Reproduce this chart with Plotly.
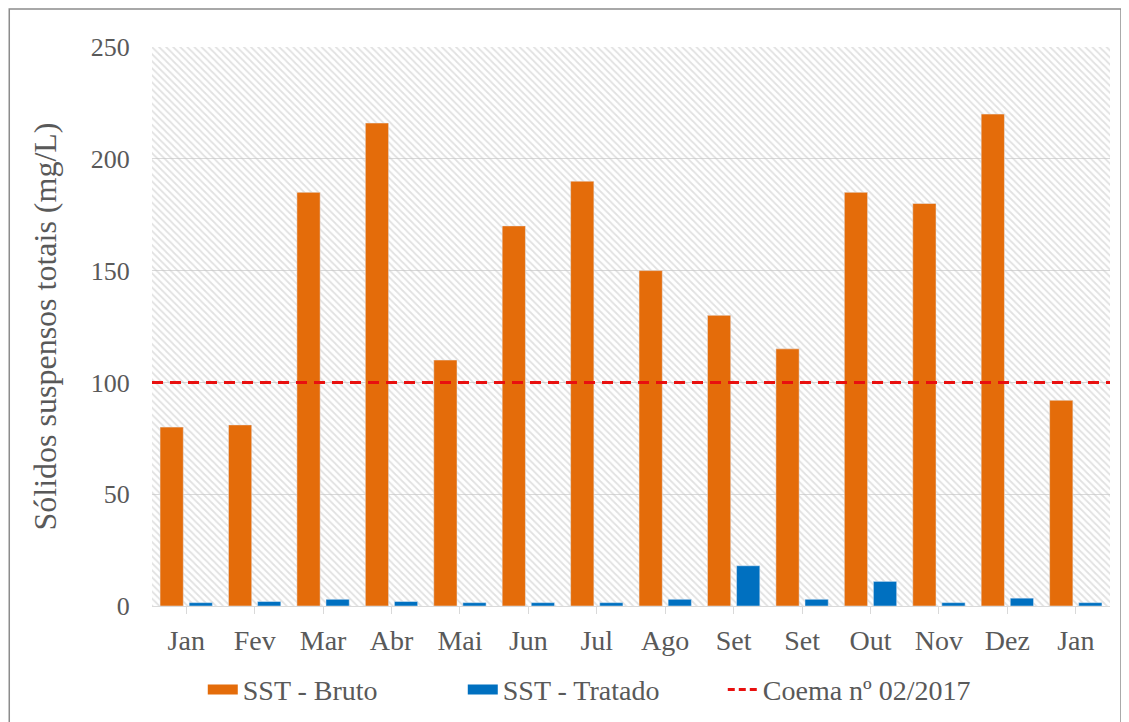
import plotly.graph_objects as go

categories = ["Jan", "Fev", "Mar", "Abr", "Mai", "Jun", "Jul", "Ago", "Set", "Set", "Out", "Nov", "Dez", "Jan"]
sst_bruto = [80, 81, 185, 216, 110, 170, 190, 150, 130, 115, 185, 180, 220, 92]
sst_tratado = [1.5, 2, 3, 2, 1.5, 1.5, 1.5, 3, 18, 3, 11, 1.5, 3.5, 1.5]
coema_limit = 100
y_ticks = [0, 50, 100, 150, 200, 250]

# unique positions for duplicated category names
xpos = list(range(len(categories)))

FONT = "Liberation Serif"
GRAY = "#595959"
ORANGE = "#E46C0A"
BLUE = "#0070C0"
RED = "#E8100F"

fig = go.Figure()

# hatched background on base numeric axis
fig.add_trace(go.Scatter(
    x=[0, 1, 1, 0, 0], y=[0, 0, 250, 250, 0], xaxis="x", yaxis="y",
    mode="lines", line=dict(width=0), fill="toself", fillcolor="rgba(0,0,0,0)",
    fillpattern=dict(shape="\\", fgcolor="#c4c4c4", bgcolor="rgba(255,255,255,0)", size=5, solidity=0.35),
    showlegend=False, hoverinfo="skip"))

fig.add_trace(go.Bar(x=xpos, y=sst_bruto, name="SST - Bruto", marker_color=ORANGE,
                     xaxis="x2", yaxis="y", showlegend=False, legendgroup="b"))
fig.add_trace(go.Bar(x=xpos, y=sst_tratado, name="SST - Tratado", marker_color=BLUE,
                     xaxis="x2", yaxis="y", showlegend=False, legendgroup="t"))
fig.add_trace(go.Scatter(x=[0, 1], y=[coema_limit, coema_limit], name="Coema nº 02/2017",
                         mode="lines", line=dict(color=RED, width=3, dash="11px,7px"),
                         xaxis="x3", yaxis="y", showlegend=False, legendgroup="c"))

# legend entries (wide swatches like the original)
fig.add_trace(go.Scatter(x=[None], y=[None], name="SST - Bruto", mode="lines",
                         line=dict(color=ORANGE, width=12), xaxis="x3", yaxis="y", legendgroup="b"))
fig.add_trace(go.Scatter(x=[None], y=[None], name="SST - Tratado", mode="lines",
                         line=dict(color=BLUE, width=12), xaxis="x3", yaxis="y", legendgroup="t"))
fig.add_trace(go.Scatter(x=[None], y=[None], name="Coema nº 02/2017", mode="lines",
                         line=dict(color=RED, width=3, dash="7px,4px"), xaxis="x3", yaxis="y",
                         legendgroup="c"))

fig.update_layout(
    width=1121, height=714,
    margin=dict(l=144, r=19, t=39, b=116, autoexpand=False),
    paper_bgcolor="white", plot_bgcolor="white",
    barmode="group", bargap=0.15, bargroupgap=0.2,
    font=dict(family=FONT, color=GRAY, size=24),
    xaxis=dict(range=[0, 1], visible=False, fixedrange=True),
    xaxis2=dict(overlaying="x", tickmode="array", tickvals=xpos, ticktext=categories,
                range=[-0.5, len(categories) - 0.5], showgrid=False, showline=True,
                linecolor="#d9d9d9", linewidth=1, ticks="outside", tickson="boundaries",
                ticklen=7, tickcolor="#d9d9d9", automargin=False, ticklabelstandoff=2,
                tickfont=dict(size=28, family=FONT, color=GRAY)),
    xaxis3=dict(overlaying="x", range=[0, 1], visible=False),
    yaxis=dict(range=[0, 250], tickvals=y_ticks, showgrid=True, gridcolor="#d9d9d9",
               gridwidth=1, zeroline=False, showline=False, ticks="outside", ticklen=16,
               tickcolor="rgba(0,0,0,0)", automargin=False,
               tickfont=dict(size=26, family=FONT, color=GRAY),
               title=dict(text="Sólidos suspensos totais (mg/L)", standoff=24,
                          font=dict(size=32, family=FONT, color=GRAY))),
    legend=dict(orientation="h", x=0.053, xanchor="left", y=-0.15, yanchor="middle",
                font=dict(size=28, family=FONT, color=GRAY), entrywidth=215, entrywidthmode="pixels",
                traceorder="normal", bgcolor="rgba(0,0,0,0)"),
    showlegend=True,
)

fig.add_shape(type="rect", xref="paper", yref="paper", x0=-0.149, x1=1.0115, y0=-0.215, y1=1.068,
              line=dict(color="#8c8c8c", width=1.5), fillcolor="rgba(0,0,0,0)", layer="above")

fig.write_html("out.html")
